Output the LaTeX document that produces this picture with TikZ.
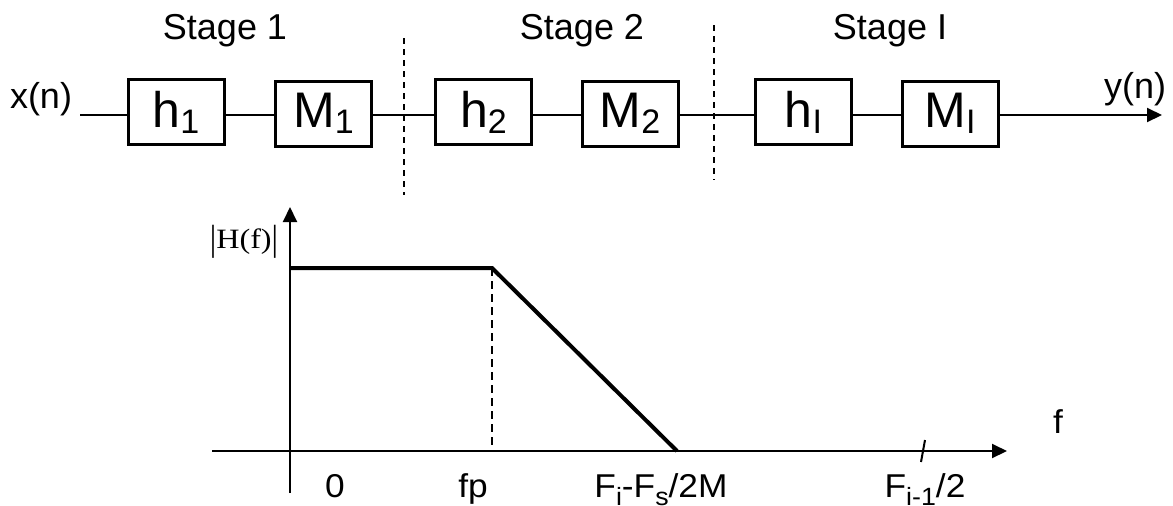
\documentclass[tikz,border=0pt]{standalone}
\usepackage{fontspec}
\setmainfont{Liberation Sans}
\newfontfamily\seriffont{Liberation Serif}
\usetikzlibrary{arrows.meta}
\newcommand\bsub[1]{\raisebox{-3pt}{\fontsize{17pt}{17pt}\selectfont #1}}
\newcommand\lsub[1]{\raisebox{-4pt}{\fontsize{12.5pt}{12.5pt}\selectfont #1}}
\newcommand\tallbar{\raisebox{-1pt}{\scalebox{1}[1.3]{|}}}
\tikzset{
  blk/.style={draw, line width=1.5pt, minimum width=48pt, minimum height=32.5pt, inner sep=0pt, font=\fontsize{25pt}{25pt}\selectfont},
  lbl/.style={font=\fontsize{18pt}{18pt}\selectfont, inner sep=0pt, anchor=base},
  axlbl/.style={font=\fontsize{16.5pt}{16.5pt}\selectfont, inner sep=0pt, anchor=base},
  sig/.style={line width=1pt},
  sep/.style={line width=0.8pt, dash pattern=on 3pt off 2.5pt},
  tip/.style={-{Triangle[length=7.5pt,width=7pt]}},
}
\begin{document}
\begin{tikzpicture}[x=0.5pt,y=-0.5pt]
\useasboundingbox (0,0) rectangle (1173,505);
% stage labels
\node[lbl] (s1) at (225,39) {Stage 1};
\node[lbl] (s2) at (582,39) {Stage 2};
\node[lbl] (s3) at (890,39) {Stage I};
\node[lbl] (xin) at (41,108) {x(n)};
\node[lbl] (yout) at (1135,98) {y(n)};
% blocks
\node[blk] (h1) at (176,112) {h\bsub{1}};
\node[blk] (m1) at (323.5,113.5) {M\bsub{1}};
\node[blk] (h2) at (483.5,112) {h\bsub{2}};
\node[blk] (m2) at (630,113.5) {M\bsub{2}};
\node[blk] (h3) at (803.5,112) {h\bsub{I}};
\node[blk] (m3) at (950,113.5) {M\bsub{I}};
\coordinate (in) at (80,115);
\coordinate (out) at (1162,115);
\draw[sig] (in) -- (in -| h1.west);
\draw[sig] (h1.east |- in) -- (m1.west |- in);
\draw[sig] (m1.east |- in) -- (h2.west |- in);
\draw[sig] (h2.east |- in) -- (m2.west |- in);
\draw[sig] (m2.east |- in) -- (h3.west |- in);
\draw[sig] (h3.east |- in) -- (m3.west |- in);
\draw[sig,tip] (m3.east |- out) -- (out);
% stage separators
\coordinate (d1a) at (404,38); \coordinate (d1b) at (404,195);
\coordinate (d2a) at (714,25); \coordinate (d2b) at (714,180);
\draw[sep] (d1a) -- (d1b);
\draw[sep] (d2a) -- (d2b);
% plot
\coordinate (yb) at (290,493);
\coordinate (yt) at (290,207);
\coordinate (xl) at (212,451);
\coordinate (xr) at (1007,451);
\draw[sig,tip] (yb) -- (yt);
\draw[sig,tip] (xl) -- (xr);
\coordinate (p0) at (289,268);
\coordinate (pp) at (492,268);
\coordinate (ps) at (677,451);
\coordinate (pf) at (492,451);
\draw[line width=2pt, line join=miter] (p0) -- (pp) -- (ps);
\draw[line width=1pt, dash pattern=on 4pt off 2.5pt] (pp) -- (pf);
\coordinate (ta) at (925,440);
\coordinate (tb) at (921,462);
\draw[line width=1pt] (ta) -- (tb);
% plot labels
\node[inner sep=0pt, anchor=base, font=\seriffont\fontsize{14pt}{14pt}\selectfont] (hf) at (244,248) {\scalebox{1.15}[1]{\tallbar H(f)\tallbar}};
\node[axlbl] (l0) at (335,497) {\scalebox{1.07}[1]{0}};
\node[axlbl] (lfp) at (473,497) {\scalebox{1.07}[1]{fp}};
\node[axlbl] (lfs) at (661,497) {\scalebox{1.07}[1]{F\lsub{i}-F\lsub{s}/2M}};
\node[axlbl] (lfi) at (925,497) {\scalebox{1.07}[1]{F\lsub{i-1}/2}};
\node[axlbl] (lf) at (1058,433) {\scalebox{1.07}[1]{f}};
\end{tikzpicture}
\end{document}
